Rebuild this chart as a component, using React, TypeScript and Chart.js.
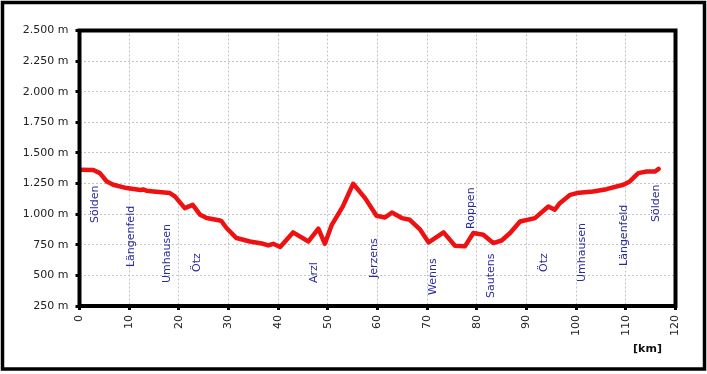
import React, { useEffect, useRef } from "react";
import { Chart, registerables } from "chart.js";

Chart.register(...registerables);

const distanceKm = [
  0, 2.8, 4.1, 5.5, 6.8, 9.5, 12.3, 12.8, 13.5, 14.9, 18.2, 19.2, 21.2, 22.8, 24.3, 25.6,
  28.3, 28.6, 29.6, 31.6, 34.3, 37.0, 38.0, 39.0, 40.4, 43.0, 46.1, 48.1, 49.4, 50.8,
  53.0, 55.1, 57.5, 59.8, 61.5, 62.9, 64.9, 66.5, 68.6, 70.3, 73.3, 75.6, 77.6, 79.3,
  81.3, 83.3, 85.0, 86.7, 88.7, 91.7, 94.4, 95.7, 96.7, 98.8, 100.1, 103.4, 106.1,
  109.5, 110.8, 112.5, 114.2, 115.9, 116.6,
];
const elevationM = [
  1363, 1360, 1335, 1267, 1240, 1213, 1198, 1202, 1192, 1186, 1172, 1145, 1049, 1076, 995, 968,
  948, 942, 887, 805, 777, 758, 745, 758, 732, 851, 777, 881, 758, 913,
  1062, 1248, 1131, 987, 973, 1013, 968, 954, 873, 769, 851, 742, 737, 846,
  832, 764, 785, 846, 940, 968, 1063, 1036, 1090, 1158, 1172, 1185, 1204,
  1240, 1267, 1335, 1348, 1348, 1370,
];

const placeNames = [
  "Sölden", "Längenfeld", "Umhausen", "Ötz", "Arzl", "Jerzens", "Wenns",
  "Roppen", "Sautens", "Ötz", "Umhausen", "Längenfeld", "Sölden",
];
const placeKm = [3.1, 10.4, 17.7, 23.7, 47.2, 59.3, 71.3, 78.9, 82.9, 93.5, 101.3, 109.6, 116.1];
const placeLabelBaseM = [928, 568, 438, 528, 438, 479, 340, 879, 315, 528, 446, 577, 936];

const xMin = 0, xMax = 120, xStep = 10;
const yMin = 250, yMax = 2500, yStep = 250;
const xUnitLabel = "[km]";

const FONT = "'DejaVu Sans', Verdana, sans-serif";

function formatMeters(v: number) {
  const s = Math.round(v).toString();
  return s.replace(/\B(?=(\d{3})+(?!\d))/g, ".") + " m";
}

export default function App() {
  const ref = useRef<HTMLCanvasElement | null>(null);

  useEffect(() => {
    document.body.style.margin = "0";
    const canvas = ref.current!;
    const points = distanceKm.map((x, i) => ({ x, y: elevationM[i] }));

    const decor = {
      id: "decor",
      afterDraw(chart: any) {
        const { ctx, chartArea: a, scales } = chart;
        const xs = scales.x, ys = scales.y;
        ctx.save();
        ctx.fillStyle = "#2a2a9c";
        ctx.font = `11px ${FONT}`;
        ctx.textAlign = "left";
        ctx.textBaseline = "middle";
        placeNames.forEach((name, i) => {
          const px = xs.getPixelForValue(placeKm[i]);
          const py = ys.getPixelForValue(placeLabelBaseM[i]);
          ctx.save();
          ctx.translate(px, py);
          ctx.rotate(-Math.PI / 2);
          ctx.fillText(name, 0, 0);
          ctx.restore();
        });
        ctx.strokeStyle = "#000";
        ctx.lineWidth = 4;
        ctx.strokeRect(a.left, a.top, a.right - a.left, a.bottom - a.top);
        ctx.lineWidth = 3.5;
        ctx.strokeRect(2.5, 2.5, 702, 366.5);
        ctx.fillStyle = "#111";
        ctx.font = `bold 11px ${FONT}`;
        ctx.textAlign = "center";
        ctx.fillText(xUnitLabel, a.right - 28, a.bottom + 43);
        ctx.restore();
      },
    };

    const chart = new Chart(canvas, {
      type: "line",
      data: {
        datasets: [
          {
            data: points,
            borderColor: "#ee1111",
            borderWidth: 4.5,
            pointRadius: 0,
            tension: 0,
            borderJoinStyle: "round",
            borderCapStyle: "round",
            fill: false,
          },
        ],
      },
      options: {
        responsive: false,
        animation: false,
        devicePixelRatio: 1,
        layout: { padding: { top: 30.5, right: 31.5, left: 0, bottom: 0 } },
        plugins: { legend: { display: false }, tooltip: { enabled: false }, title: { display: false } },
        scales: {
          x: {
            type: "linear",
            min: xMin,
            max: xMax,
            afterFit(scale: any) {
              scale.height = 68;
            },
            ticks: {
              stepSize: xStep,
              minRotation: 90,
              maxRotation: 90,
              padding: 5,
              color: "#222",
              font: { family: FONT, size: 11 },
            },
            grid: {
              color: "#c4c4c4",
              lineWidth: 1,
              tickLength: 4,
              tickWidth: 3,
              tickColor: "#000",
              tickBorderDash: [],
            },
            border: { display: false, dash: [2, 2] },
          },
          y: {
            type: "linear",
            min: yMin,
            max: yMax,
            afterFit(scale: any) {
              scale.width = 79.5;
            },
            ticks: {
              stepSize: yStep,
              padding: 7,
              color: "#222",
              font: { family: FONT, size: 11 },
              callback: (v: any) => formatMeters(Number(v)),
            },
            grid: {
              color: "#c4c4c4",
              lineWidth: 1,
              tickLength: 4,
              tickWidth: 3,
              tickColor: "#000",
              tickBorderDash: [],
            },
            border: { display: false, dash: [2, 2] },
          },
        },
      },
      plugins: [decor],
    } as any);

    return () => chart.destroy();
  }, []);

  return <canvas ref={ref} width={707} height={374} style={{ display: "block" }} />;
}
